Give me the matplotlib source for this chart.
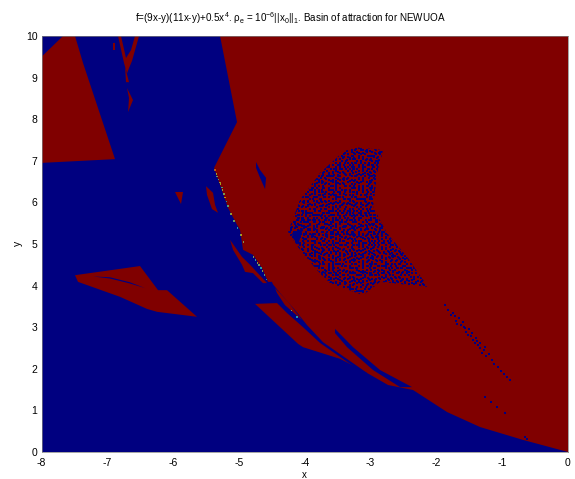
import numpy as np
import matplotlib
matplotlib.use("Agg")
import matplotlib.pyplot as plt
from matplotlib.patches import Polygon

plt.rcParams["font.family"] = ["Liberation Sans", "DejaVu Sans"]
plt.rcParams["mathtext.fontset"] = "custom"
plt.rcParams["mathtext.rm"] = "Liberation Sans"
plt.rcParams["mathtext.it"] = "Liberation Sans"
plt.rcParams["mathtext.bf"] = "Liberation Sans"
plt.rcParams["axes.unicode_minus"] = False

# basin outlines as (x, y)
main_basin = [(-5.287, 10), (-5.029, 7.93), (-5.378, 6.83), (-5.287, 6.42), (-5.166, 5.87),
              (-5.029, 5.46), (-4.983, 5.34), (-4.938, 4.86), (-4.786, 4.74), (-4.649, 4.42),
              (-4.558, 4.09), (-4.497, 4.09), (-4.421, 3.58), (-4.755, 3.56), (-4.102, 2.60),
              (-4.026, 2.52), (-3.464, 2.24), (-3.053, 1.90), (-2.734, 1.61), (-2.354, 1.49),
              (-1.837, 0.96), (-1.336, 0.60), (-0.682, 0.29), (0, 0), (0, 10)]
corner_basin = [(-8, 9.50), (-7.673, 10), (-7.491, 10), (-7.369, 9.35), (-6.883, 7.04), (-8, 6.95)]
left_wedge = [(-7.491, 4.25), (-6.503, 4.47), (-6.229, 3.89), (-6.093, 3.89), (-5.637, 3.25),
              (-6.245, 3.37), (-6.397, 3.44), (-6.807, 3.73), (-7.445, 4.09)]
top_streak = [(-6.837, 10), (-6.792, 10), (-6.716, 9.47), (-6.640, 9.66), (-6.579, 10), (-6.518, 10),
              (-6.625, 9.40), (-6.67, 9.23), (-6.701, 9.10), (-6.746, 9.35)]
top_thread = [(-6.731, 9.26), (-6.67, 8.89), (-6.716, 8.89)]
top_tail = [(-6.701, 8.75), (-6.61, 8.46), (-6.685, 8.17), (-6.67, 8.51)]
top_fleck = [(-6.91, 9.83), (-6.885, 9.83), (-6.885, 9.66), (-6.91, 9.66)]
small_triangle = [(-5.971, 6.25), (-5.850, 6.25), (-5.880, 5.96)]
small_shard = [(-5.500, 6.39), (-5.394, 6.23), (-5.363, 5.94), (-5.318, 5.75), (-5.409, 5.84), (-5.485, 6.18)]
edge_shard = [(-5.135, 5.10), (-4.953, 4.69), (-4.831, 4.50), (-4.573, 4.06), (-4.634, 4.06),
              (-4.786, 4.30), (-4.907, 4.33), (-4.953, 4.50), (-5.090, 4.86)]
red_regions = [main_basin, corner_basin, left_wedge, top_streak, top_thread, top_tail, top_fleck,
               small_triangle, small_shard, edge_shard]

strip = [(-4.497, 4.06), (-4.375, 3.82), (-4.147, 3.41), (-3.965, 3.05), (-3.722, 2.64), (-3.053, 1.90),
         (-3.114, 1.90), (-3.767, 2.62), (-4.026, 3.00), (-4.269, 3.34), (-4.421, 3.58), (-4.55, 3.90)]
sliver = [(-3.540, 2.96), (-3.266, 2.52), (-2.856, 1.97), (-2.369, 1.56), (-2.552, 1.56),
          (-2.962, 1.97), (-3.357, 2.52), (-3.540, 2.86)]
upper_sliver = [(-4.740, 6.97), (-4.679, 6.78), (-4.588, 6.59), (-4.603, 6.32), (-4.679, 6.59), (-4.740, 6.83)]
wedge_streak = [(-7.217, 4.22), (-6.959, 4.20), (-6.655, 4.08), (-6.427, 3.94), (-6.655, 4.05), (-6.959, 4.17)]
speck_core = [(-4.193, 5.26), (-4.025, 5.38), (-4.10, 4.98), (-4.178, 5.14)]
speck_core2 = [(-3.95, 4.69), (-3.87, 4.50), (-3.92, 4.62)]
blue_regions = [strip, sliver, upper_sliver, wedge_streak]

strip_thread = [(-4.451, 3.94), (-4.254, 3.61), (-4.041, 3.17), (-4.30, 3.53), (-4.421, 3.82)]

speckle = [(-4.254, 5.29), (-4.071, 6.06), (-3.767, 6.71), (-3.433, 7.19), (-3.266, 7.33), (-2.810, 7.26),
           (-2.901, 6.71), (-2.962, 5.89), (-2.750, 5.26), (-2.446, 4.69), (-2.127, 3.97), (-2.856, 4.09),
           (-3.115, 3.77), (-3.617, 4.06), (-3.815, 4.375), (-4.071, 4.86)]
speck_x0 = -4.30
speck_y0 = 7.40
# '#' is a start point that lands in the blue basin
speck_rows = [
    "#..#...#.##..#....#..#.#...##.#...#..#.#....##..#.#..#...#",
    ".#...#....#.#..##...#....#....#.#...##...#.#....#...##.#..",
    "..##.#.#.....#....#..##.#..#.#...#.....#....#.##..#.....#.",
    "#.....#..##.#..#.#.......#.#...##..#.#..##.#....#...#.#...",
    ".#.#.#....#....#...##.#.#....#.....#..#....#..#...##...#.#",
    "...#...#.#..##.#.#.....#..##...#.#...#..#.#.....#.#..#....",
    "#.#..#.....#.....#..#.#.....#.#....##..#....##.#....#..##.",
    ".....#.##.#..#.#..#.....##.#...#.#.....#.#.....#.#.#......",
    ".#.#......#...#...#.#.#....#.#....#.##...#.#.#.....#..#.#.",
    "#...#.#.#...#.#.#.....#.##....#.#.....#.#.....#.##...#....",
    "..#....#..##.....#.#.#.....#.#...#.#.#....#.#....#.#...#.#",
    ".#..#.#.....#.#.#...#..#.#...#.#....#..#....#.#.....#.#...",
    "#.....#.#.#.....#.#...#....#.....#.#...#.##....#.#.#...#..",
    "..#.#...#...#.#....#.#..#.#..##.#...#.#.....#.#......#...#",
    ".#...#.#..#...#.#.....#....#.....#.#...#.#.#...#.#.#...#..",
    "...#.....#..#.#...#.#..#.#...#.#....#.....#..#.....#.#...#",
    "#.#..#.#....#...#...#.....#.#...#.#...#.#...#..#.#....#...",
    "....#...#.#...#.#.#...#.#....#.....#.#....#...#...#.#...#.",
    ".#.#..#....#.#.....#.#.....#...#.#.....#.#..#..#.....#.#..",
    "#....#..#.#...#.#.#....#.#...#.#...#.#...#....#..#.#....#.",
    "..#.#.#.....#.....#.#....#.#.....#....#.#..#.#.....#.#.#..",
    ".#.....#.#.#..#.#....#.#...#.#.#...#.#......#...#.#.....#.",
    "...#.#....#.....#.#.#....#......#.#....#.#.#..#....#.#....",
    "#.#...#.#...#.#.....#..#...#.#.....#.#...#....#.#.....#.#.",
    "....#.....#...#.#.#....#.#....#.#.#....#...#.#...#.#.#....",
    ".#.#..#.#...#.....#.#.....#.#.....#.#.#..#.....#.....#..#.",
    "#....#...#.#..#.#....#.#.#...#.#......#....#.#...#.#...#..",
    "..#.#..#.....#....#.#.....#.....#.#.#...#.#....#....#.#..#",
    ".#....#..#.#...#.#...#.#...#.#.....#.#.....#.#...#.#......",
    "...#.#.#.....#.....#.....#.#...#.#....#.#.#...#.#....#.#.#",
    "#.#.....#.#.#..#.#.#.#.#.....#....#.#.....#........#.#....",
    "....#.#...#.......#.....#.#.#..#.#....#.#...#.#.#.#...#.#.",
    ".#.#...#....#.#.#...#.#.......#....#.#...#.#.........#...#",
    "#....#...#.#.....#.....#.#.#.#..#.....#.#....#.#.#.#...#..",
    "..#.#..#.....#.#...#.#......#.....#.#....#.#.......#.#...#",
    ".#....#..#.#....#.#....#.#.#...#.#....#.#....#.#.#.....#..",
    "...#.#......#.#.....#.#.....#.#...#.#.....#.#......#.#...#",
    "#.#....#.#.#....#.#.....#.#.....#.....#.#....#.#.#....#...",
    "....#.#....#.#.....#.#.#.....#.#...#.#...#.#.....#.#....#.",
    ".#.#...#.#.....#.#....#..#.#.....#.....#.....#.#...#.#.#..",
]

# stray points
streak_x = [-1.87, -1.82, -1.78, -1.75, -1.70, -1.66, -1.63, -1.58, -1.55, -1.50, -1.47, -1.44, -1.40,
            -1.36, -1.33, -1.28, -1.24, -1.20, -1.16, -1.12, -1.07, -1.02, -0.97, -0.92, -0.88,
            -1.72, -1.68, -1.60, -1.56, -1.52, -1.46, -1.42, -1.38, -1.34, -1.30, -1.26,
            -1.26, -1.17, -1.08, -0.96, -0.65, -0.62]
streak_y = [3.53, 3.42, 3.30, 3.34, 3.15, 3.22, 3.05, 3.00, 2.88, 2.95, 2.78, 2.70, 2.74, 2.58, 2.50,
            2.45, 2.30, 2.36, 2.20, 2.12, 2.05, 1.95, 1.88, 1.80, 1.73,
            3.28, 3.08, 3.12, 2.98, 2.82, 2.86, 2.62, 2.66, 2.62, 2.38, 2.52,
            1.32, 1.20, 1.08, 0.94, 0.36, 0.31]
edge_x = [-5.36, -5.34, -5.33, -5.31, -5.29, -5.28, -5.26, -5.25, -5.23, -5.21, -5.19, -5.17, -5.12,
          -5.07, -5.02, -4.97, -4.93, -4.78, -4.75, -4.72, -4.70, -4.67, -4.64, -4.61, -4.58, -4.20, -4.12]
edge_y = [6.78, 6.68, 6.62, 6.55, 6.48, 6.44, 6.36, 6.30, 6.20, 6.12, 6.02, 5.92, 5.72,
          5.55, 5.38, 5.22, 5.05, 4.68, 4.62, 4.55, 4.50, 4.42, 4.35, 4.25, 4.15, 3.40, 3.25]
edge_v = [0.75, 0.6, 0.5, 0.45, 0.55, 0.6, 0.4, 0.55, 0.5, 0.65, 0.35, 0.45, 0.6,
          0.55, 0.4, 0.6, 0.5, 0.6, 0.45, 0.65, 0.55, 0.4, 0.6, 0.5, 0.35, 0.55, 0.4]

title_parts = r"f=(9x-y)(11x-y)+0.5x$^{4}$. $\rho_e$ = 10$^{-6}$||x$_0$||$_1$. Basin of attraction for NEWUOA"
x_ticks = [-8, -7, -6, -5, -4, -3, -2, -1, 0]
y_ticks = [0, 1, 2, 3, 4, 5, 6, 7, 8, 9, 10]

cmap = plt.get_cmap("jet")
low = cmap(0.0)
high = cmap(1.0)

fig = plt.figure(figsize=(5.75, 4.79), dpi=100)
ax = fig.add_axes([41.5 / 575, 1 - 452 / 479, 526.5 / 575, 416 / 479])
ax.set_facecolor(low)

for region in red_regions:
    ax.fill(*zip(*region), color=high, lw=0)
for region in blue_regions:
    ax.fill(*zip(*region), color=low, lw=0)
ax.fill(*zip(*strip_thread), color=high, lw=0)

# speckle drawn twice at different pitch so the dots do not form a lattice
cells = np.array([[c == "#" for c in row] for row in speck_rows])
clip = Polygon(speckle, transform=ax.transData)
for layer, dx, dy in [(cells, 0.0289, 0.0457), (cells[::-1, ::-1], 0.0350, 0.0553)]:
    tiled = np.tile(layer, (3, 2))
    rows, cols = np.nonzero(tiled)
    dots = ax.scatter(speck_x0 + cols * dx, speck_y0 - rows * dy, s=1.1, marker="s", color=low, lw=0)
    dots.set_clip_path(clip)
for region in [speck_core, speck_core2]:
    ax.fill(*zip(*region), color=low, lw=0)

ax.scatter(streak_x, streak_y, s=2, marker="s", color=low, lw=0)
ax.scatter(edge_x, edge_y, s=1.5, marker="s", c=edge_v, cmap=cmap, vmin=0, vmax=1, lw=0, alpha=0.6)

ax.set_xlim(-8, 0)
ax.set_ylim(0, 10)
ax.set_xticks(x_ticks)
ax.set_yticks(y_ticks)
ax.tick_params(length=0, labelsize=7.5)
ax.tick_params(axis="x", pad=4.5)
ax.tick_params(axis="y", pad=3)
for s in ax.spines.values():
    s.set_linewidth(0.5)
    s.set_color("#808080")

fig.text(290 / 575, 1 - 18 / 479, title_parts, ha="center", va="center", fontsize=7.15)
fig.text(304 / 575, 1 - 474.5 / 479, "x", ha="center", va="center", fontsize=7)
fig.text(18 / 575, 1 - 243 / 479, "y", ha="center", va="center", rotation=90, fontsize=7.5)

fig.savefig("out.png", dpi=100)
